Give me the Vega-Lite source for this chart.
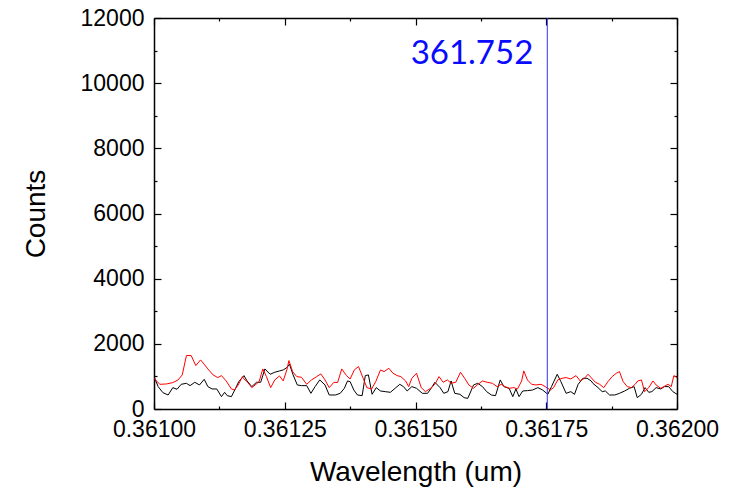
{
  "$schema": "https://vega.github.io/schema/vega-lite/v6.json",
  "width": 523,
  "height": 391,
  "autosize": {"type": "none"},
  "padding": {"left": 154, "top": 18, "right": 54, "bottom": 80},
  "background": "white",
  "config": {
    "view": {"stroke": null},
    "axis": {
      "grid": false,
      "domainColor": "black",
      "domainWidth": 1.5,
      "tickColor": "black",
      "tickWidth": 1.2,
      "labelFont": "Liberation Sans",
      "labelFontSize": 23,
      "labelColor": "black",
      "labelOverlap": false,
      "labelFlush": false,
      "titleFont": "Liberation Sans",
      "titleFontSize": 28,
      "titleFontWeight": "normal",
      "titleColor": "black"
    }
  },
  "datasets": {
    "scan1": [
      {"w": 0.361000, "c": 994}, {"w": 0.361008, "c": 687}, {"w": 0.361017, "c": 502}, {"w": 0.361027, "c": 430},
      {"w": 0.361036, "c": 656}, {"w": 0.361044, "c": 605}, {"w": 0.361052, "c": 758}, {"w": 0.361062, "c": 789},
      {"w": 0.361069, "c": 717}, {"w": 0.361078, "c": 820}, {"w": 0.361087, "c": 738}, {"w": 0.361096, "c": 912},
      {"w": 0.361103, "c": 687}, {"w": 0.361111, "c": 615}, {"w": 0.361120, "c": 615}, {"w": 0.361129, "c": 379},
      {"w": 0.361135, "c": 512}, {"w": 0.361140, "c": 410}, {"w": 0.361148, "c": 379}, {"w": 0.361156, "c": 635},
      {"w": 0.361162, "c": 840}, {"w": 0.361169, "c": 964}, {"w": 0.361172, "c": 1025}, {"w": 0.361178, "c": 861},
      {"w": 0.361187, "c": 687}, {"w": 0.361196, "c": 820}, {"w": 0.361204, "c": 820}, {"w": 0.361212, "c": 1230},
      {"w": 0.361222, "c": 1066}, {"w": 0.361231, "c": 1128}, {"w": 0.361240, "c": 1169}, {"w": 0.361247, "c": 1199},
      {"w": 0.361254, "c": 1271}, {"w": 0.361259, "c": 1374}, {"w": 0.361266, "c": 1046}, {"w": 0.361274, "c": 738},
      {"w": 0.361282, "c": 717}, {"w": 0.361292, "c": 717}, {"w": 0.361300, "c": 481}, {"w": 0.361308, "c": 687},
      {"w": 0.361317, "c": 892}, {"w": 0.361327, "c": 738}, {"w": 0.361335, "c": 430}, {"w": 0.361347, "c": 430},
      {"w": 0.361356, "c": 481}, {"w": 0.361364, "c": 635}, {"w": 0.361370, "c": 861}, {"w": 0.361375, "c": 840},
      {"w": 0.361382, "c": 584}, {"w": 0.361389, "c": 430}, {"w": 0.361398, "c": 410}, {"w": 0.361404, "c": 1025},
      {"w": 0.361410, "c": 1046}, {"w": 0.361417, "c": 451}, {"w": 0.361425, "c": 656}, {"w": 0.361433, "c": 553},
      {"w": 0.361442, "c": 533}, {"w": 0.361452, "c": 512}, {"w": 0.361461, "c": 635}, {"w": 0.361470, "c": 758},
      {"w": 0.361477, "c": 687}, {"w": 0.361484, "c": 553}, {"w": 0.361493, "c": 687}, {"w": 0.361502, "c": 635},
      {"w": 0.361513, "c": 481}, {"w": 0.361523, "c": 481}, {"w": 0.361530, "c": 635}, {"w": 0.361537, "c": 820},
      {"w": 0.361547, "c": 656}, {"w": 0.361554, "c": 481}, {"w": 0.361562, "c": 533}, {"w": 0.361568, "c": 861},
      {"w": 0.361575, "c": 481}, {"w": 0.361585, "c": 451}, {"w": 0.361593, "c": 348}, {"w": 0.361600, "c": 327},
      {"w": 0.361611, "c": 738}, {"w": 0.361619, "c": 789}, {"w": 0.361628, "c": 687}, {"w": 0.361636, "c": 533},
      {"w": 0.361645, "c": 430}, {"w": 0.361653, "c": 410}, {"w": 0.361662, "c": 892}, {"w": 0.361669, "c": 687},
      {"w": 0.361679, "c": 635}, {"w": 0.361686, "c": 379}, {"w": 0.361692, "c": 615}, {"w": 0.361698, "c": 379},
      {"w": 0.361705, "c": 553}, {"w": 0.361714, "c": 564}, {"w": 0.361724, "c": 584}, {"w": 0.361734, "c": 656},
      {"w": 0.361743, "c": 584}, {"w": 0.361753, "c": 451}, {"w": 0.361760, "c": 687}, {"w": 0.361771, "c": 1066},
      {"w": 0.361778, "c": 840}, {"w": 0.361788, "c": 481}, {"w": 0.361797, "c": 533}, {"w": 0.361804, "c": 451},
      {"w": 0.361811, "c": 758}, {"w": 0.361820, "c": 943}, {"w": 0.361828, "c": 943}, {"w": 0.361836, "c": 861},
      {"w": 0.361839, "c": 789}, {"w": 0.361849, "c": 656}, {"w": 0.361857, "c": 533}, {"w": 0.361863, "c": 553},
      {"w": 0.361871, "c": 430}, {"w": 0.361881, "c": 430}, {"w": 0.361890, "c": 481}, {"w": 0.361900, "c": 553},
      {"w": 0.361909, "c": 635}, {"w": 0.361918, "c": 687}, {"w": 0.361924, "c": 348}, {"w": 0.361932, "c": 451},
      {"w": 0.361939, "c": 656}, {"w": 0.361946, "c": 512}, {"w": 0.361952, "c": 533}, {"w": 0.361960, "c": 656},
      {"w": 0.361969, "c": 615}, {"w": 0.361976, "c": 687}, {"w": 0.361984, "c": 687}, {"w": 0.361992, "c": 533},
      {"w": 0.362000, "c": 451}
    ],
    "scan2": [
      {"w": 0.361000, "c": 943}, {"w": 0.361011, "c": 758}, {"w": 0.361024, "c": 769}, {"w": 0.361036, "c": 810},
      {"w": 0.361046, "c": 892}, {"w": 0.361054, "c": 1046}, {"w": 0.361062, "c": 1641}, {"w": 0.361071, "c": 1641},
      {"w": 0.361080, "c": 1333}, {"w": 0.361089, "c": 1507}, {"w": 0.361097, "c": 1353}, {"w": 0.361103, "c": 1230},
      {"w": 0.361113, "c": 1046}, {"w": 0.361122, "c": 964}, {"w": 0.361129, "c": 1025}, {"w": 0.361138, "c": 861},
      {"w": 0.361148, "c": 615}, {"w": 0.361154, "c": 584}, {"w": 0.361161, "c": 738}, {"w": 0.361169, "c": 994},
      {"w": 0.361172, "c": 922}, {"w": 0.361178, "c": 840}, {"w": 0.361187, "c": 656}, {"w": 0.361195, "c": 758},
      {"w": 0.361201, "c": 840}, {"w": 0.361208, "c": 1230}, {"w": 0.361215, "c": 994}, {"w": 0.361223, "c": 656},
      {"w": 0.361231, "c": 892}, {"w": 0.361240, "c": 1015}, {"w": 0.361247, "c": 861}, {"w": 0.361254, "c": 1199},
      {"w": 0.361258, "c": 1487}, {"w": 0.361265, "c": 1148}, {"w": 0.361273, "c": 994}, {"w": 0.361282, "c": 974},
      {"w": 0.361292, "c": 758}, {"w": 0.361301, "c": 892}, {"w": 0.361311, "c": 994}, {"w": 0.361319, "c": 1076},
      {"w": 0.361327, "c": 892}, {"w": 0.361335, "c": 656}, {"w": 0.361344, "c": 820}, {"w": 0.361351, "c": 810},
      {"w": 0.361359, "c": 1230}, {"w": 0.361368, "c": 1025}, {"w": 0.361375, "c": 922}, {"w": 0.361383, "c": 1199},
      {"w": 0.361391, "c": 1302}, {"w": 0.361400, "c": 943}, {"w": 0.361407, "c": 656}, {"w": 0.361416, "c": 615},
      {"w": 0.361424, "c": 840}, {"w": 0.361433, "c": 1199}, {"w": 0.361440, "c": 1148}, {"w": 0.361449, "c": 1251},
      {"w": 0.361457, "c": 1097}, {"w": 0.361465, "c": 1025}, {"w": 0.361472, "c": 994}, {"w": 0.361481, "c": 861},
      {"w": 0.361487, "c": 687}, {"w": 0.361493, "c": 943}, {"w": 0.361502, "c": 1097}, {"w": 0.361511, "c": 656},
      {"w": 0.361519, "c": 533}, {"w": 0.361529, "c": 635}, {"w": 0.361537, "c": 758}, {"w": 0.361545, "c": 994},
      {"w": 0.361553, "c": 820}, {"w": 0.361561, "c": 892}, {"w": 0.361568, "c": 789}, {"w": 0.361577, "c": 820},
      {"w": 0.361586, "c": 1128}, {"w": 0.361594, "c": 943}, {"w": 0.361602, "c": 738}, {"w": 0.361611, "c": 635},
      {"w": 0.361618, "c": 738}, {"w": 0.361628, "c": 861}, {"w": 0.361637, "c": 820}, {"w": 0.361647, "c": 789},
      {"w": 0.361656, "c": 687}, {"w": 0.361664, "c": 758}, {"w": 0.361671, "c": 687}, {"w": 0.361679, "c": 635},
      {"w": 0.361688, "c": 656}, {"w": 0.361695, "c": 615}, {"w": 0.361703, "c": 861}, {"w": 0.361707, "c": 1169},
      {"w": 0.361714, "c": 892}, {"w": 0.361722, "c": 758}, {"w": 0.361730, "c": 738}, {"w": 0.361740, "c": 758},
      {"w": 0.361748, "c": 687}, {"w": 0.361758, "c": 584}, {"w": 0.361764, "c": 656}, {"w": 0.361772, "c": 892},
      {"w": 0.361780, "c": 943}, {"w": 0.361788, "c": 964}, {"w": 0.361797, "c": 922}, {"w": 0.361807, "c": 1025},
      {"w": 0.361815, "c": 861}, {"w": 0.361823, "c": 943}, {"w": 0.361830, "c": 1066}, {"w": 0.361844, "c": 820},
      {"w": 0.361852, "c": 758}, {"w": 0.361860, "c": 656}, {"w": 0.361868, "c": 840}, {"w": 0.361876, "c": 994},
      {"w": 0.361884, "c": 1097}, {"w": 0.361890, "c": 1148}, {"w": 0.361897, "c": 840}, {"w": 0.361905, "c": 687},
      {"w": 0.361913, "c": 656}, {"w": 0.361920, "c": 758}, {"w": 0.361925, "c": 861}, {"w": 0.361932, "c": 892},
      {"w": 0.361938, "c": 533}, {"w": 0.361946, "c": 656}, {"w": 0.361954, "c": 861}, {"w": 0.361960, "c": 738},
      {"w": 0.361969, "c": 635}, {"w": 0.361975, "c": 687}, {"w": 0.361983, "c": 758}, {"w": 0.361989, "c": 687},
      {"w": 0.361994, "c": 1025}, {"w": 0.362000, "c": 964}
    ],
    "marker": [{"w": 0.361752, "label": "361.752"}]
  },
  "layer": [
    {
      "data": {"name": "scan1"},
      "mark": {"type": "line", "color": "black", "strokeWidth": 1, "clip": true},
      "encoding": {
        "x": {
          "field": "w", "type": "quantitative",
          "scale": {"domain": [0.361, 0.362], "nice": false, "zero": false},
          "axis": {
            "orient": "bottom",
            "title": "Wavelength (um)",
            "titlePadding": 13,
            "values": [0.361, 0.361125, 0.36125, 0.361375, 0.3615, 0.361625, 0.36175, 0.361875, 0.362],
            "labelExpr": "abs(datum.value*4000 - round(datum.value*4000)) < 0.000001 ? format(datum.value, '.5f') : ''",
            "tickSize": {"condition": {"test": "abs(datum.value*4000 - round(datum.value*4000)) < 0.000001", "value": -7}, "value": -3},
            "labelPadding": 16
          }
        },
        "y": {
          "field": "c", "type": "quantitative",
          "scale": {"domain": [0, 12000], "nice": false},
          "axis": {
            "orient": "left",
            "title": "Counts",
            "titlePadding": 30,
            "values": [0, 1000, 2000, 3000, 4000, 5000, 6000, 7000, 8000, 9000, 10000, 11000, 12000],
            "labelExpr": "datum.value % 2000 == 0 ? format(datum.value, 'd') : ''",
            "tickSize": {"condition": {"test": "datum.value % 2000 == 0", "value": -7}, "value": -3},
            "labelPadding": 17
          }
        }
      }
    },
    {
      "data": {"name": "scan2"},
      "mark": {"type": "line", "color": "#ff0000", "strokeWidth": 1, "clip": true},
      "encoding": {
        "x": {"field": "w", "type": "quantitative", "axis": null},
        "y": {"field": "c", "type": "quantitative", "axis": null}
      }
    },
    {
      "data": {"name": "marker"},
      "mark": {"type": "rule", "color": "#3030ff", "strokeWidth": 1},
      "encoding": {
        "x": {"field": "w", "type": "quantitative", "axis": null}
      }
    },
    {
      "data": {"name": "marker"},
      "mark": {"type": "text", "align": "right", "baseline": "middle", "dx": -14, "font": "Lato", "fontSize": 33, "color": "#0a0aff"},
      "encoding": {
        "x": {
          "field": "w", "type": "quantitative",
          "axis": {
            "orient": "top", "title": null, "labels": false,
            "values": [0.361, 0.361125, 0.36125, 0.361375, 0.3615, 0.361625, 0.36175, 0.361875, 0.362],
            "tickSize": {"condition": {"test": "abs(datum.value*4000 - round(datum.value*4000)) < 0.000001", "value": -7}, "value": -3}
          }
        },
        "y": {
          "datum": 10880, "type": "quantitative",
          "axis": {
            "orient": "right", "title": null, "labels": false,
            "values": [0, 1000, 2000, 3000, 4000, 5000, 6000, 7000, 8000, 9000, 10000, 11000, 12000],
            "tickSize": {"condition": {"test": "datum.value % 2000 == 0", "value": -7}, "value": -3}
          }
        },
        "text": {"field": "label"}
      }
    }
  ],
  "resolve": {"axis": {"x": "independent", "y": "independent"}}
}
